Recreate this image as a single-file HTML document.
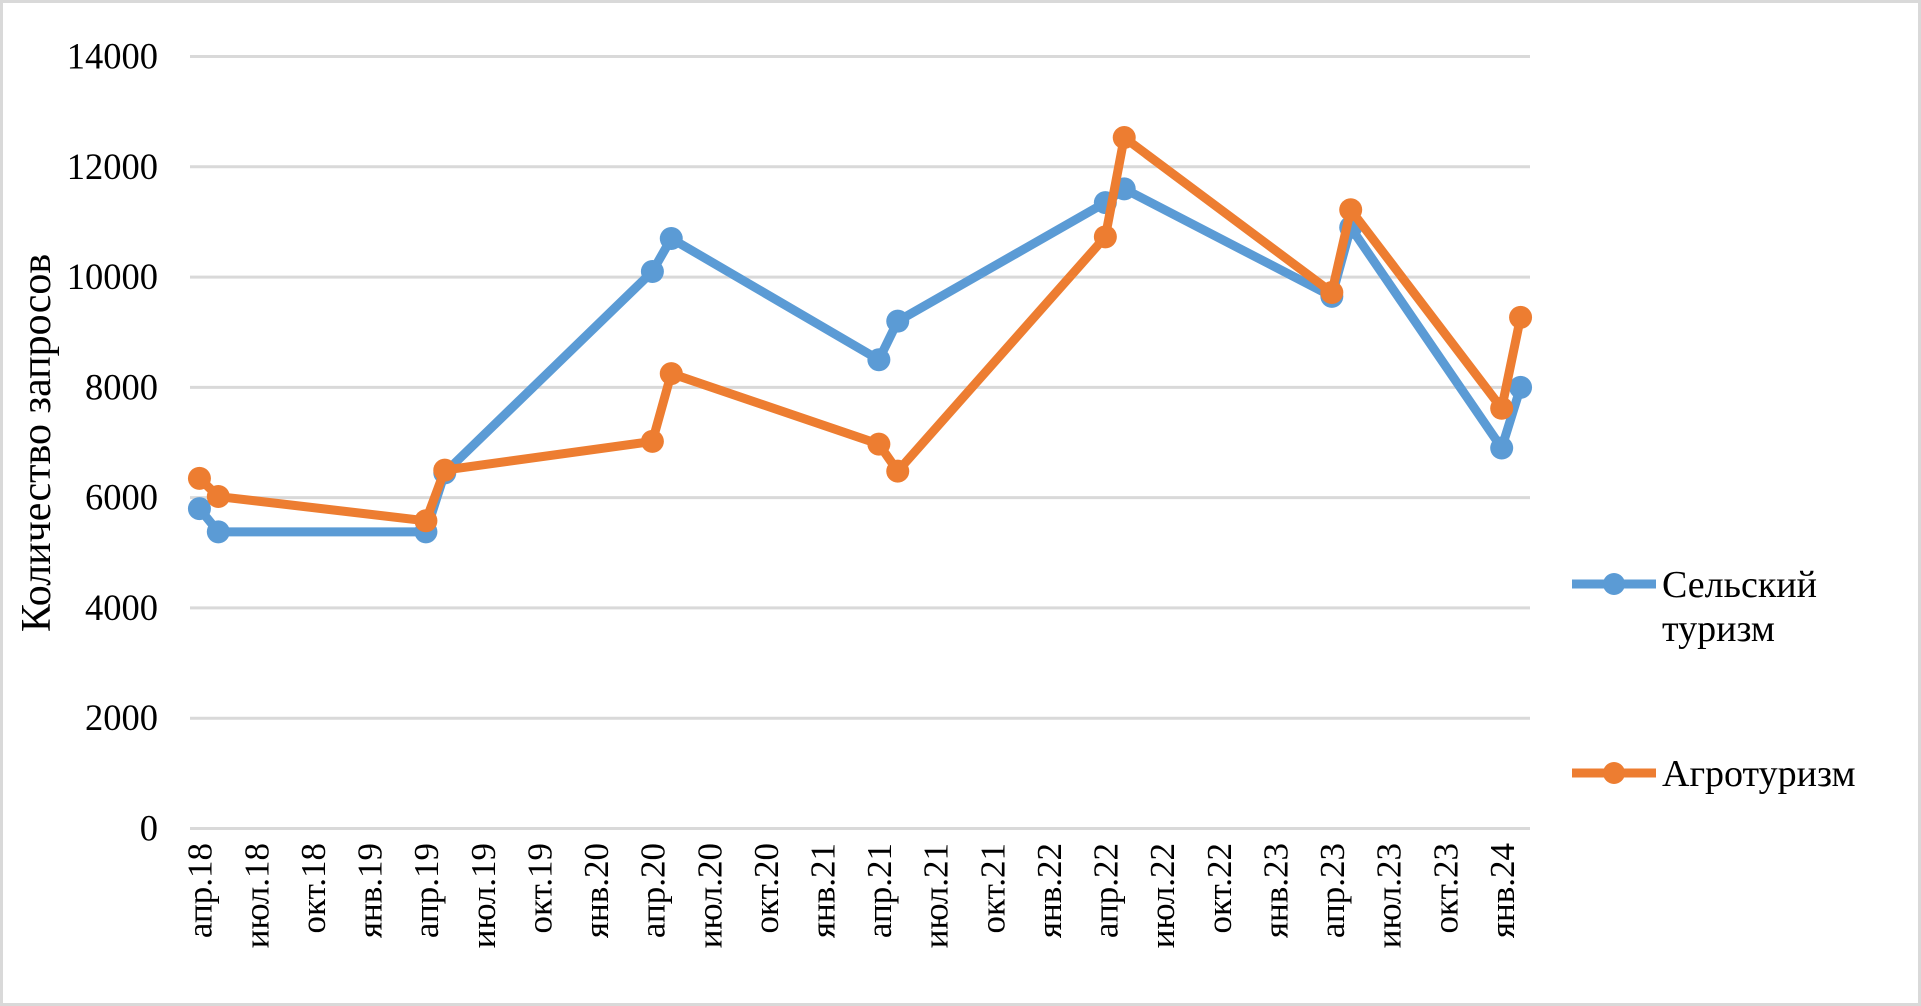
<!DOCTYPE html>
<html><head><meta charset="utf-8"><style>
html,body{margin:0;padding:0;background:#fff;}
svg{display:block;font-family:"Liberation Serif",serif;}
</style></head><body>
<svg id="chart" width="1921" height="1006" viewBox="0 0 1921 1006">
<rect x="1.5" y="1.5" width="1918" height="1003" fill="#fff" stroke="#d9d9d9" stroke-width="3"/>
<g id="grid"></g><g id="yticks"></g><g id="xticks"></g><g id="series"></g>
<text x="0" y="0" transform="translate(50,443) rotate(-90)" text-anchor="middle" font-size="42" fill="#000">Количество запросов</text>
<g>
<g>
<line x1="1572" y1="584" x2="1656" y2="584" stroke="#5b9bd5" stroke-width="9"/>
<circle cx="1614" cy="584" r="11" fill="#5b9bd5"/>
<text x="1662" y="597" font-size="38" fill="#000">Сельский</text>
<text x="1662" y="641" font-size="38" fill="#000">туризм</text>
</g>
<g>
<line x1="1572" y1="773" x2="1656" y2="773" stroke="#ed7d31" stroke-width="9"/>
<circle cx="1614" cy="773" r="11" fill="#ed7d31"/>
<text x="1662" y="786" font-size="38" fill="#000">Агротуризм</text>
</g>
</g>
</svg>
<script>
const yTicks = [0, 2000, 4000, 6000, 8000, 10000, 12000, 14000];
const xTickLabels = ['апр.18','июл.18','окт.18','янв.19','апр.19','июл.19','окт.19','янв.20','апр.20','июл.20','окт.20','янв.21','апр.21','июл.21','окт.21','янв.22','апр.22','июл.22','окт.22','янв.23','апр.23','июл.23','окт.23','янв.24'];
const pointMonths = [0, 1, 12, 13, 24, 25, 36, 37, 48, 49, 60, 61, 69, 70];
const ruralValues = [5800, 5380, 5380, 6450, 10100, 10700, 8500, 9200, 11350, 11600, 9650, 10900, 6900, 8000];
const agroValues = [6350, 6020, 5580, 6500, 7020, 8250, 6970, 6480, 10730, 12530, 9720, 11220, 7620, 9270];
const monthCount = 71;

const NS = 'http://www.w3.org/2000/svg';
const L = 190, R = 1530, Y0 = 828.5, YT = 56.5, YMAX = 14000;
const step = (R - L) / monthCount;
const xScale = m => L + (m + 0.5) * step;
const yScale = v => Y0 - (v / YMAX) * (Y0 - YT);
function mk(tag, attrs, parent) {
  const e = document.createElementNS(NS, tag);
  for (const k in attrs) e.setAttribute(k, attrs[k]);
  parent.appendChild(e);
  return e;
}
const grid = document.getElementById('grid');
const yt = document.getElementById('yticks');
yTicks.forEach(v => {
  const ln = mk('line', {x1: L, x2: R, y1: yScale(v), y2: yScale(v), stroke: '#d9d9d9', 'stroke-width': 3}, grid);
  
  
  const t = mk('text', {x: 158, y: yScale(v) + 12, 'text-anchor': 'end', 'font-size': 36.5, fill: '#000'}, yt);
  t.textContent = v;
  
  
});
const xt = document.getElementById('xticks');
xTickLabels.forEach((lab, i) => {
  const x = xScale(i * 3), y = 843;
  const t = mk('text', {x: x, y: y, dy: '0.35em', transform: 'rotate(-90,' + x + ',' + y + ')', 'text-anchor': 'end', 'font-size': 35, fill: '#000'}, xt);
  t.textContent = lab;
  
  
});
const sg = document.getElementById('series');
function drawSeries(vals, color, name) {
  const g = mk('g', {}, sg);
  
  
  const pts = vals.map((v, i) => xScale(pointMonths[i]) + ',' + yScale(v)).join(' ');
  const pl = mk('polyline', {points: pts, fill: 'none', stroke: color, 'stroke-width': 9, 'stroke-linejoin': 'round', 'stroke-linecap': 'round'}, g);
  
  
  vals.forEach((v, i) => {
    const c = mk('circle', {cx: xScale(pointMonths[i]), cy: yScale(v), r: 11.5, fill: color}, g);
    
    
  });
}
drawSeries(ruralValues, '#5b9bd5', 'rural-tourism-series');
drawSeries(agroValues, '#ed7d31', 'agrotourism-series');
</script>
</body></html>
